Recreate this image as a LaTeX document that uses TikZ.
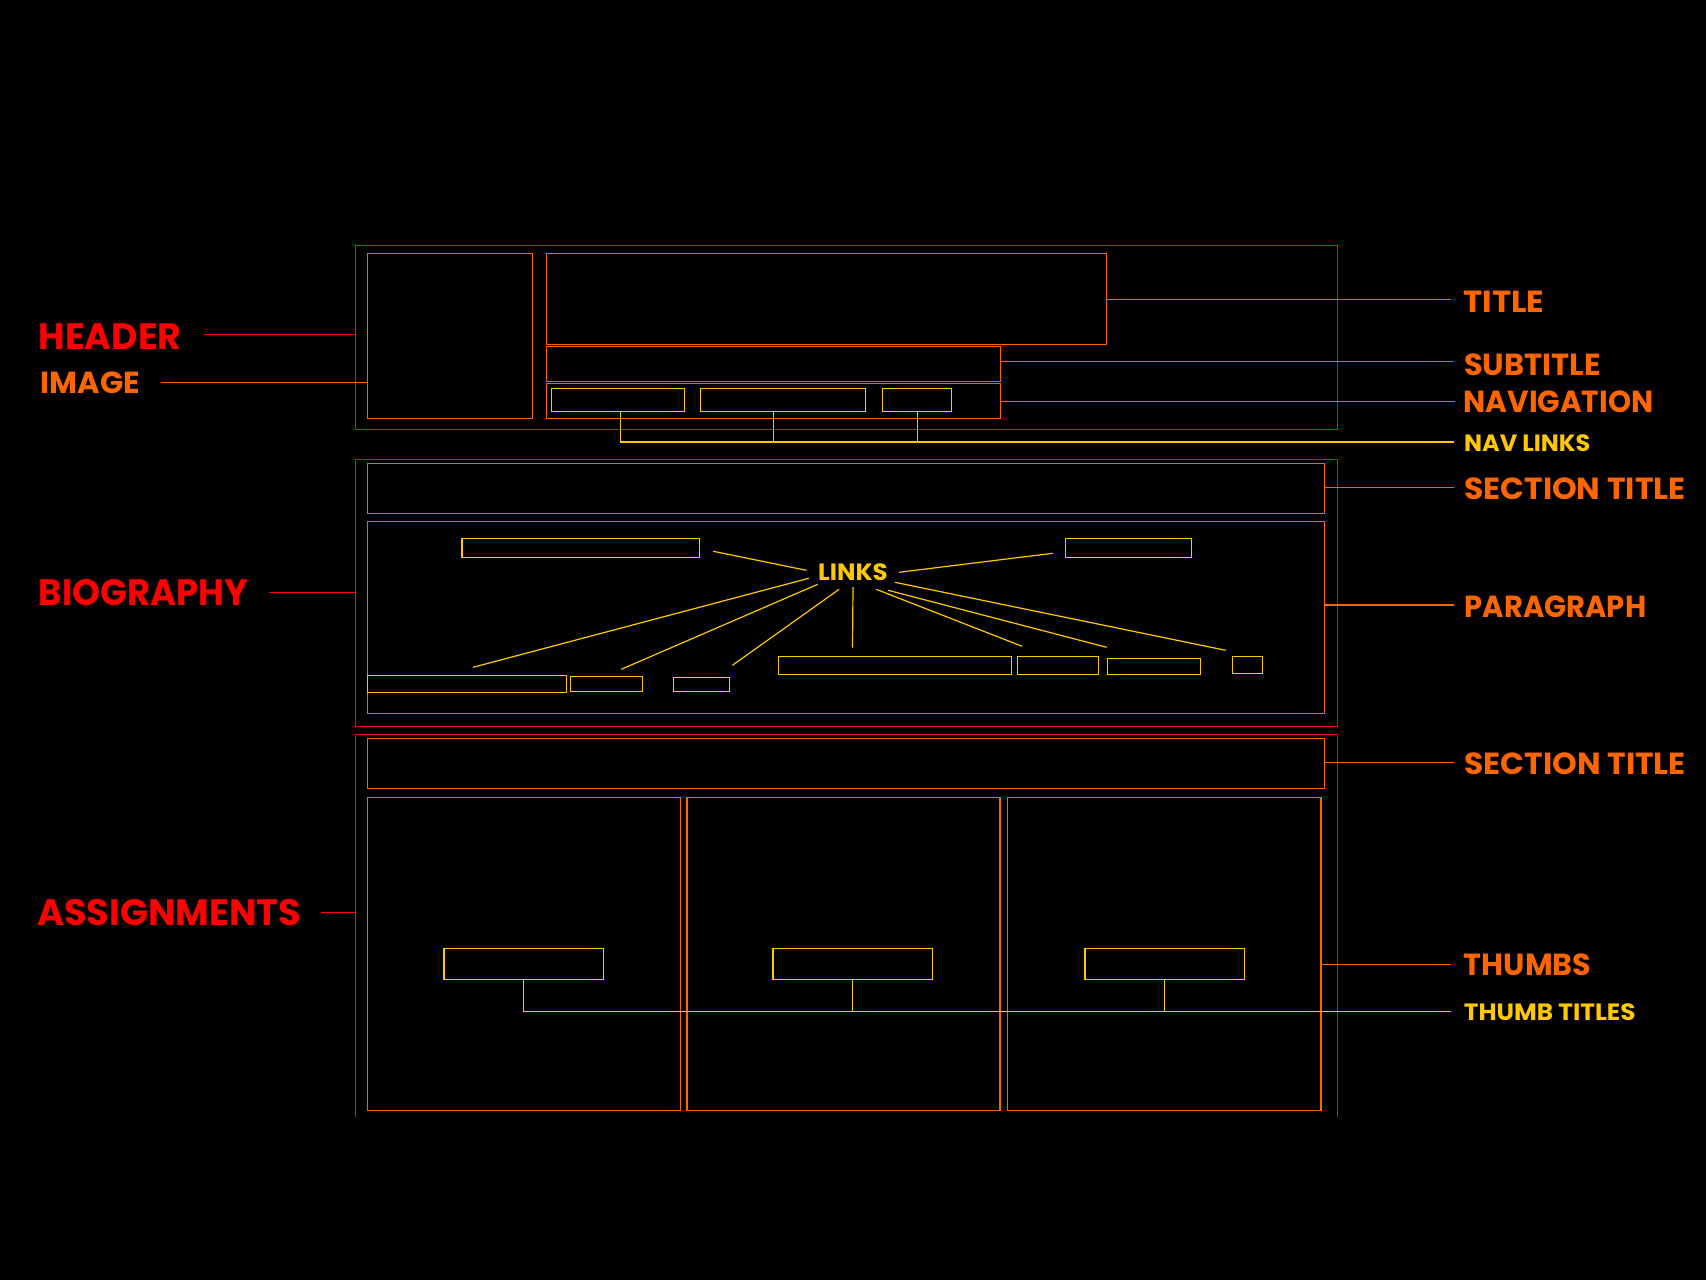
\documentclass[tikz,border=0pt]{standalone}
\usepackage{fontspec}
\setmainfont{Poppins}
\definecolor{wred}{RGB}{255,0,0}
\definecolor{bred}{RGB}{230,20,10}
\definecolor{worange}{RGB}{255,102,0}
\definecolor{wyellow}{RGB}{255,200,0}
\newcommand{\wbox}[6]{\node[#1, minimum width=#5-#3, minimum height=#6-#4, anchor=north west] (#2) at (#3,#4) {};}
\newcommand{\sx}[2]{\scalebox{#1}[1]{#2}}
\begin{document}
\begin{tikzpicture}[x=1pt,y=-1pt,
  obox/.style={draw=bred, line width=1.4pt, inner sep=0pt, outer sep=0pt},
  ibox/.style={draw=worange, line width=1.4pt, inner sep=0pt, outer sep=0pt},
  ybox/.style={draw=wyellow, line width=1.4pt, inner sep=0pt, outer sep=0pt},
  rline/.style={draw=wred, line width=1.2pt},
  oline/.style={draw=worange, line width=1.2pt},
  yline/.style={draw=wyellow, line width=1.2pt},
  biglab/.style={anchor=base west, inner sep=0pt, text=wred, font=\fontsize{36.7}{40}\selectfont\bfseries},
  midlab/.style={anchor=base west, inner sep=0pt, text=worange, font=\fontsize{30.5}{34}\selectfont\bfseries},
  smlab/.style={anchor=base west, inner sep=0pt, text=wyellow, font=\fontsize{23.6}{26}\selectfont\bfseries}]
\fill[black] (0,0) rectangle (1706,1280);
\useasboundingbox (0,0) rectangle (1706,1280);
% outer boxes
\wbox{obox}{hdr}{355.5}{245.3}{1337.3}{429.3}
\wbox{obox}{bio}{355.5}{459.3}{1337.3}{726.3}
\coordinate (asgBL) at (355.5,1116.7);
\coordinate (asgTL) at (355.5,734.3);
\coordinate (asgTR) at (1337.3,734.3);
\coordinate (asgBR) at (1337.3,1116.7);
\draw[draw=bred, line width=1.4pt] (asgBL) -- (asgTL) -- (asgTR) -- (asgBR);
% inner orange boxes
\wbox{ibox}{img}{367.3}{253.3}{532.7}{418.3}
\wbox{ibox}{title}{546.4}{253.3}{1106.6}{344.3}
\wbox{ibox}{subt}{546.4}{346.3}{1000.3}{381.3}
\wbox{ibox}{nav}{546.4}{383.3}{1000.3}{418.3}
\wbox{ibox}{secA}{367.3}{463.3}{1324.3}{513.3}
\wbox{ibox}{para}{367.3}{521.3}{1324.3}{713.3}
\wbox{ibox}{secB}{367.3}{738.3}{1324.3}{788.3}
\wbox{ibox}{thA}{367.3}{797.3}{680.6}{1110.3}
\wbox{ibox}{thB}{686.9}{797.3}{1000.1}{1110.3}
\wbox{ibox}{thC}{1007.7}{797.3}{1320.8}{1110.3}
% yellow boxes
\wbox{ybox}{nlA}{551.3}{388.3}{684.3}{411.3}
\wbox{ybox}{nlB}{700.3}{388.3}{865.3}{411.3}
\wbox{ybox}{nlC}{882.3}{388.3}{951.7}{411.3}
\wbox{ybox}{lkA}{461.9}{538.3}{699.4}{557.3}
\wbox{ybox}{lkB}{1065.3}{538.3}{1191.7}{557.3}
\wbox{ybox}{lkC}{367.2}{675.3}{566.3}{692.3}
\wbox{ybox}{lkD}{570.4}{676.3}{642.7}{691.3}
\wbox{ybox}{lkE}{673.5}{677.3}{729.7}{691.3}
\wbox{ybox}{lkF}{778.4}{656.3}{1011.4}{674.3}
\wbox{ybox}{lkG}{1017.3}{656.3}{1098.7}{674.3}
\wbox{ybox}{lkH}{1107.3}{658.3}{1200.7}{674.3}
\wbox{ybox}{lkI}{1232.3}{656.3}{1262.7}{673.3}
\wbox{ybox}{ttA}{444}{948.3}{603.4}{979.3}
\wbox{ybox}{ttB}{773}{948.3}{932.5}{979.3}
\wbox{ybox}{ttC}{1084.9}{948.3}{1244.3}{979.3}
% labels
\node[biglab] (lhdr) at (38.5,349) {\sx{0.99}{HEADER}};
\node[midlab] (limg) at (40.5,393.7) {IMAGE};
\node[biglab] (lbio) at (38.7,605.7) {\sx{0.965}{BIOGRAPHY}};
\node[biglab] (lasg) at (37,925.7) {ASSIGNMENTS};
\node[midlab] (ltitle) at (1463.5,312) {\sx{1.06}{TITLE}};
\node[midlab] (lsubt) at (1463.9,375) {SUBTITLE};
\node[midlab] (lnav) at (1463.5,412) {\sx{0.966}{NAVIGATION}};
\node[smlab] (lnl) at (1464,451.3) {\sx{1.015}{NAV LINKS}};
\node[midlab] (lsecA) at (1464,499.3) {\sx{1.03}{SECTION TITLE}};
\node[midlab] (lpara) at (1464.7,617.3) {\sx{0.95}{PARAGRAPH}};
\node[midlab] (lsecB) at (1464.3,774) {\sx{1.03}{SECTION TITLE}};
\node[midlab] (lth) at (1463.7,975.3) {\sx{0.99}{THUMBS}};
\node[smlab] (ltt) at (1463.7,1020.7) {\sx{1.05}{THUMB TITLES}};
\node[smlab] (llinks) at (818,580) {\sx{1.04}{LINKS}};
% leader line ends
\coordinate (eHdr) at (204,334.3);
\coordinate (eImg) at (161.1,382.3);
\coordinate (eBio) at (269,592.3);
\coordinate (eAsg) at (321,912.3);
\coordinate (eTitle) at (1450.6,299.3);
\coordinate (eSubt) at (1452.5,361.3);
\coordinate (eNav) at (1454.8,401.3);
\coordinate (eNl) at (1453.7,442);
\coordinate (eSecA) at (1454,487.3);
\coordinate (ePara) at (1453.7,605);
\coordinate (eSecB) at (1453.7,762.3);
\coordinate (eTh) at (1450.7,964.3);
\coordinate (eTt) at (1450.7,1011.3);
% leaders
\draw[rline] (eHdr) -- (eHdr -| hdr.west);
\draw[oline] (eImg) -- (eImg -| img.west);
\draw[rline] (eBio) -- (eBio -| bio.west);
\draw[rline] (eAsg) -- (eAsg -| asgTL);
\draw[oline] (eTitle -| title.east) -- (eTitle);
\draw[oline] (eSubt -| subt.east) -- (eSubt);
\draw[oline] (eNav -| nav.east) -- (eNav);
\draw[oline] (eSecA -| secA.east) -- (eSecA);
\draw[oline] (ePara -| para.east) -- (ePara);
\draw[oline] (eSecB -| secB.east) -- (eSecB);
\draw[oline] (eTh -| thC.east) -- (eTh);
% nav links
\coordinate (nA) at (620.3,411.3);
\coordinate (nB) at (773.3,411.3);
\coordinate (nC) at (917.3,411.3);
\draw[yline] (nA) -- (nA |- eNl) -- (eNl);
\draw[yline] (nB) -- (nB |- eNl);
\draw[yline] (nC) -- (nC |- eNl);
% thumb titles
\draw[yline] (ttA.south) -- (ttA.south |- eTt) -- (eTt);
\draw[yline] (ttB.south) -- (ttB.south |- eTt);
\draw[yline] (ttC.south) -- (ttC.south |- eTt);
% links rays
\coordinate (r1a) at (806.5,570.3); \coordinate (r1b) at (713.2,551.3);
\coordinate (r2a) at (898.9,572.3); \coordinate (r2b) at (1052.7,553.3);
\coordinate (r3a) at (808.8,578.3); \coordinate (r3b) at (473,667.3);
\coordinate (r4a) at (817.7,584.3); \coordinate (r4b) at (621.2,669.3);
\coordinate (r5a) at (839.1,589.3); \coordinate (r5b) at (732.4,665.3);
\coordinate (r6a) at (853,587); \coordinate (r6b) at (852.5,647.7);
\coordinate (r7a) at (876.2,589.3); \coordinate (r7b) at (1022.1,646.3);
\coordinate (r8a) at (888.2,590.3); \coordinate (r8b) at (1106.7,647.3);
\coordinate (r9a) at (894.9,582.3); \coordinate (r9b) at (1225.7,650.3);
\foreach \i in {1,...,9} {\draw[yline] (r\i a) -- (r\i b);}
\end{tikzpicture}
\end{document}
